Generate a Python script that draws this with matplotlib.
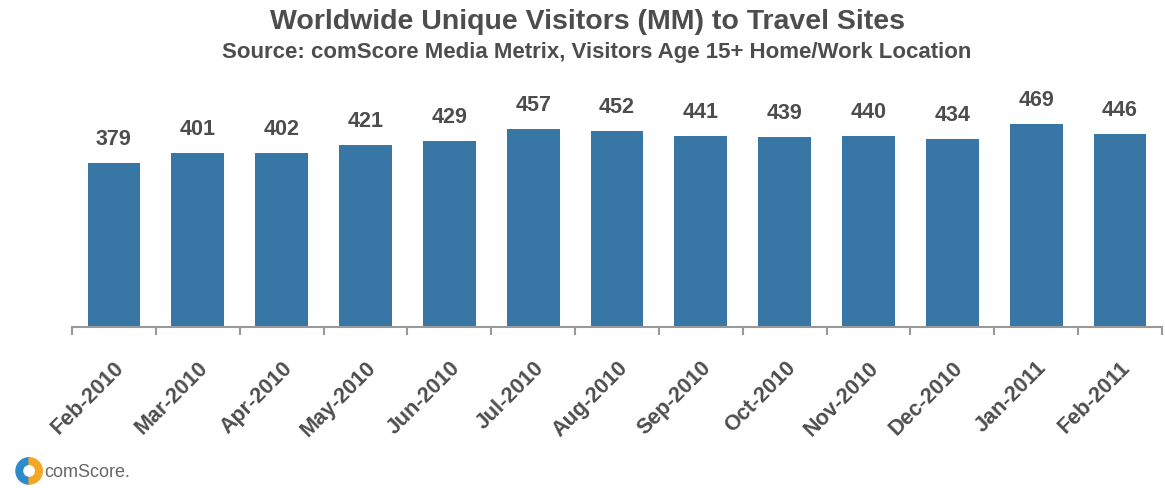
import matplotlib.pyplot as plt
from matplotlib.patches import Wedge
import numpy as np

plt.rcParams['font.family'] = ['Liberation Sans', 'DejaVu Sans']

months = ['Feb-2010', 'Mar-2010', 'Apr-2010', 'May-2010', 'Jun-2010', 'Jul-2010',
          'Aug-2010', 'Sep-2010', 'Oct-2010', 'Nov-2010', 'Dec-2010', 'Jan-2011', 'Feb-2011']
visitors = [379, 401, 402, 421, 429, 457, 452, 441, 439, 440, 434, 469, 446]

bar_color = '#3877A5'
text_color = '#4D4D4D'

fig = plt.figure(figsize=(11.65, 4.88), dpi=100)
fig.patch.set_facecolor('white')
ax = fig.add_axes([0.0618, 0.330, 0.9356, 0.46])

x = np.arange(len(months))
bars = ax.bar(x, visitors, width=0.63, color=bar_color, zorder=2)

for b, v in zip(bars, visitors):
    ax.text(b.get_x() + b.get_width() / 2, v + 30, str(v), ha='center', va='bottom',
            fontsize=15.5, fontweight='bold', color=text_color)

ax.set_xlim(-0.5, len(months) - 0.5)
ax.set_ylim(0, 518)
ax.set_yticks([])
for s in ['top', 'right', 'left']:
    ax.spines[s].set_visible(False)
ax.spines['bottom'].set_color('#999999')
ax.spines['bottom'].set_linewidth(1.5)

ax.set_xticks(np.arange(len(months) + 1) - 0.5, minor=False)
ax.set_xticklabels([])
ax.tick_params(axis='x', which='major', length=6, width=1.5, color='#999999')
ax.set_xticks(x, minor=True)
ax.set_xticklabels(months, minor=True, rotation=45, ha='right', rotation_mode='anchor',
                   fontsize=15.5, fontweight='bold', color=text_color)
ax.tick_params(axis='x', which='minor', length=0, pad=22)

fig.text(0.504, 0.955, 'Worldwide Unique Visitors (MM) to Travel Sites', ha='center', va='center',
         fontsize=20.5, fontweight='bold', color=text_color)
fig.text(0.512, 0.893, 'Source: comScore Media Metrix, Visitors Age 15+ Home/Work Location',
         ha='center', va='center', fontsize=16, fontweight='bold', color=text_color)

# logo
lax = fig.add_axes([0.010, 0.005, 0.03, 0.06])
lax.set_xlim(-1, 1)
lax.set_ylim(-1, 1)
lax.set_aspect('equal')
lax.axis('off')
lax.add_patch(Wedge((0, 0), 0.9, 90, 270, width=0.45, color='#2E8BC9'))
lax.add_patch(Wedge((0, 0), 0.9, -90, 90, width=0.45, color='#F5A623'))
fig.text(0.038, 0.032, 'comScore.', ha='left', va='center', fontsize=13, color='#666666')

fig.savefig('out.png', dpi=100, facecolor='white')
